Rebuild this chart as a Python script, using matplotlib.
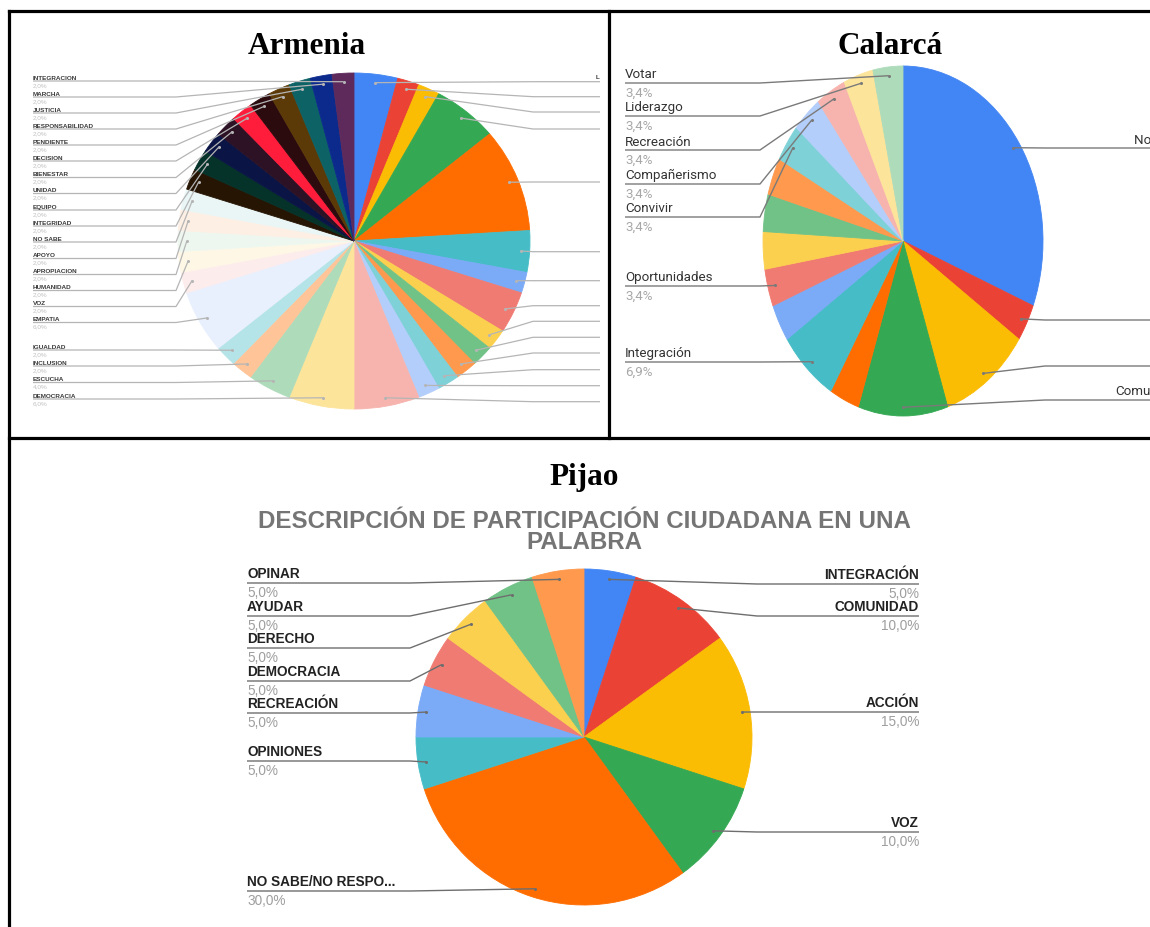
import matplotlib.pyplot as plt
import numpy as np

W, H = 1150, 928

# Google Sheets default pie palette
google = ["#4285F4", "#EA4335", "#FBBC04", "#34A853", "#FF6D01", "#46BDC6",
          "#7BAAF7", "#F07B72", "#FCD04F", "#71C287", "#FF994D", "#7ED1D7",
          "#B3CEFB", "#F7B4AE", "#FDE49B", "#AEDCBA", "#FFC599", "#B5E4E8"]

# ---- Armenia (clockwise from 12 o'clock), percent ----
arm_labels = ["L", "", "", "", "", "", "", "", "", "", "", "", "", "",
              "DEMOCRACIA", "ESCUCHA", "INCLUSION", "IGUALDAD", "EMPATIA",
              "VOZ", "HUMANIDAD", "APROPIACION", "APOYO", "NO SABE",
              "INTEGRIDAD", "EQUIPO", "UNIDAD", "BIENESTAR", "DECISION",
              "PENDIENTE", "RESPONSABILIDAD", "JUSTICIA", "MARCHA", "INTEGRACION"]
arm_values = [4, 2, 2, 6, 10, 4, 2, 4, 2, 2, 2, 2, 2, 6,
              6, 4, 2, 2, 6, 2, 2, 2, 2, 2,
              2, 2, 2, 2, 2, 2, 2, 2, 2, 2]
arm_colors = google + ["#E9F0FD", "#FDECEC", "#FEF7E6", "#EEF7EF", "#FDEFE4", "#EAF6F6",
                       "#261503", "#053229", "#0A1546", "#2D1225", "#FF1D3B",
                       "#2B0B0E", "#5C3A08", "#0D6266", "#0C2A8C", "#5E2A5C"]

# ---- Calarca (clockwise from 12 o'clock), answer counts out of 29 ----
cal_labels = ["No sabe", "", "", "Comunidad", "", "Integración", "", "Oportunidades",
              "", "", "", "Convivir", "Compañerismo", "Recreación", "Liderazgo", "Votar"]
cal_counts = [9, 1, 3, 3, 1, 2, 1, 1, 1, 1, 1, 1, 1, 1, 1, 1]
cal_colors = google[:16]

# ---- Pijao (clockwise from 12 o'clock), percent ----
pij_labels = ["INTEGRACIÓN", "COMUNIDAD", "ACCIÓN", "VOZ", "NO SABE/NO RESPO...",
              "OPINIONES", "RECREACIÓN", "DEMOCRACIA", "DERECHO", "AYUDAR", "OPINAR"]
pij_values = [5, 10, 15, 10, 30, 5, 5, 5, 5, 5, 5]
pij_colors = google[:11]


def pct(v):
    return f"{v:.1f}%".replace(".", ",")


fig = plt.figure(figsize=(W / 100, H / 100), dpi=100)
ov = fig.add_axes([0, 0, 1, 1], zorder=5)
ov.set_xlim(0, W)
ov.set_ylim(H, 0)
ov.axis("off")


def draw_pie(cx, cy, rx, ry, values, colors):
    a = fig.add_axes([(cx - rx) / W, 1 - (cy + ry) / H, 2 * rx / W, 2 * ry / H])
    wedges, _ = a.pie(values, colors=colors, startangle=90, counterclock=False,
                      wedgeprops=dict(linewidth=0.6))
    a.set_aspect("auto")
    a.set_xlim(-1, 1)
    a.set_ylim(-1, 1)
    a.axis("off")
    dots = []
    for w in wedges:
        w.set_edgecolor(w.get_facecolor())
        t = np.deg2rad((w.theta1 + w.theta2) / 2)
        dots.append((cx + 0.95 * rx * np.cos(t), cy - 0.95 * ry * np.sin(t)))
    return dots


def leader(dot, ly, x_text, knee, lc, lw, side):
    if side == "left":
        if dot[0] > knee:
            xs, ys = [x_text, knee, dot[0]], [ly, ly, dot[1]]
        else:
            xs, ys = [x_text, dot[0]], [ly, dot[1]]
    else:
        if dot[0] < knee:
            xs, ys = [dot[0], knee, x_text], [dot[1], ly, ly]
        else:
            xs, ys = [dot[0], x_text], [dot[1], ly]
    ov.plot(xs, ys, color=lc, lw=lw, solid_capstyle="butt")
    ov.plot(*dot, "o", ms=2.2, color=lc, mec="none")


def label(x, ly, name, p, ha, fs, fam, weight, cn, cp, gap=2.0):
    ov.text(x, ly - gap, name, ha=ha, va="bottom", fontsize=fs, family=fam,
            fontweight=weight, color=cn)
    ov.text(x, ly + gap, p, ha=ha, va="top", fontsize=fs, family=fam, color=cp)


# ---------------- Armenia ----------------
arm_dots = draw_pie(354, 242, 176, 168, arm_values, arm_colors)
arm_right_y = [82.7, 97.7, 113, 130, 183, 252.7, 281.7, 306.7, 322.3, 338.3,
               354, 370.7, 386.7, 402.7]
arm_left_y = [400, 383.5, 367, 351, 323.5, 307.5, 291.5, 275.5, 259.5, 243,
              227, 211, 194.5, 178.5, 162, 146, 130, 114, 98, 82]
for i, y in enumerate(arm_right_y):
    leader(arm_dots[i], y, 600, 533, "#b5b5b5", 0.9, "right")
ov.text(596, 80, arm_labels[0], ha="left", va="bottom", fontsize=4.5,
        family="Liberation Sans", fontweight="bold", color="#333333")
for k, y in enumerate(arm_left_y):
    i = len(arm_right_y) + k
    leader(arm_dots[i], y, 33, 176, "#b5b5b5", 0.9, "left")
    label(33, y, arm_labels[i], pct(arm_values[i]), "left", 4.6, "Liberation Sans",
          "bold", "#3a3a3a", "#c0c0c0", gap=1.2)

# ---------------- Calarca ----------------
cal_total = sum(cal_counts)
cal_dots = draw_pie(903, 242, 140, 175, cal_counts, cal_colors)
cal_left = {15: 84, 14: 117, 13: 151, 12: 185, 11: 218, 7: 287, 5: 363}
for i, y in cal_left.items():
    leader(cal_dots[i], y, 625, 760, "#7a7a7a", 1.0, "left")
    label(625, y, cal_labels[i], pct(100 * cal_counts[i] / cal_total), "left", 9.6,
          "Roboto", "normal", "#333333", "#a8a8a8", gap=2.5)
cal_right = {0: 149, 1: 321, 2: 367, 3: 401}
for i, y in cal_right.items():
    leader(cal_dots[i], y, W, 1045, "#7a7a7a", 1.0, "right")
    if cal_labels[i]:
        label(1184, y, cal_labels[i], pct(100 * cal_counts[i] / cal_total), "right", 9.6,
              "Roboto", "normal", "#333333", "#a8a8a8", gap=2.5)

# ---------------- Pijao ----------------
pij_dots = draw_pie(584, 738, 168, 168, pij_values, pij_colors)
pij_right = {0: 585, 1: 617, 2: 713, 3: 833}
for i, y in pij_right.items():
    leader(pij_dots[i], y, 919, 757, "#6e6e6e", 1.0, "right")
    label(919, y, pij_labels[i], pct(pij_values[i]), "right", 9.8,
          "Liberation Sans", "bold", "#222222", "#9e9e9e", gap=2.5)
pij_left = {10: 584, 9: 617, 8: 649, 7: 682, 6: 714, 5: 762, 4: 892}
for i, y in pij_left.items():
    leader(pij_dots[i], y, 247, 410, "#6e6e6e", 1.0, "left")
    label(247, y, pij_labels[i], pct(pij_values[i]), "left", 9.8,
          "Liberation Sans", "bold", "#222222", "#9e9e9e", gap=2.5)

ov.text(584, 532, "DESCRIPCIÓN DE PARTICIPACIÓN CIUDADANA EN UNA\nPALABRA",
        ha="center", va="center", multialignment="center", fontsize=17.4,
        family="Liberation Sans", fontweight="bold", color="#757575", linespacing=0.93)

# ---------------- panel titles ----------------
for x, y, t in [(307, 47, "Armenia"), (890, 47, "Calarcá"), (584, 478, "Pijao")]:
    ov.text(x, y, t, ha="center", va="center", fontsize=22.5,
            family="Liberation Serif", fontweight="bold", color="black")

# ---------------- table frame ----------------
frame = dict(color="black", lw=2.3, solid_capstyle="projecting")
ov.plot([8.5, 8.5], [11.5, H], **frame)
ov.plot([8.5, W], [11.5, 11.5], **frame)
ov.plot([608.5, 608.5], [11.5, 438.5], **frame)
ov.plot([8.5, W], [438.5, 438.5], **frame)

fig.savefig("out.png", dpi=100)
